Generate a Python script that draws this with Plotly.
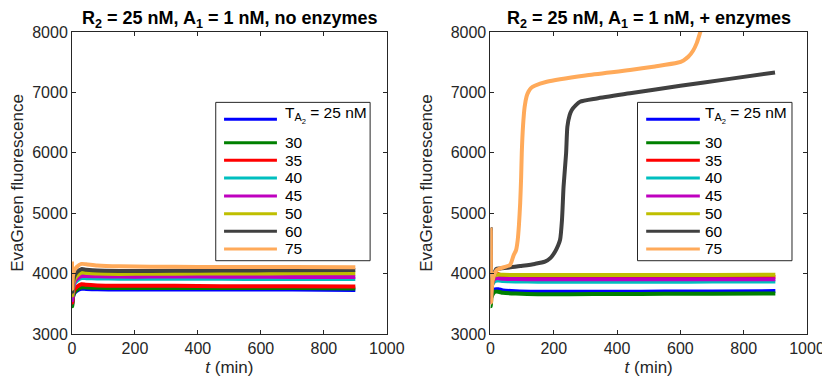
import plotly.graph_objects as go
from plotly.subplots import make_subplots

# series labels and colours (MATLAB-ish)
labels = ["T<sub>A<sub>2</sub></sub> = 25 nM", "30", "35", "40", "45", "50", "60", "75"]
colors = ["#0000ff", "#008000", "#ff0000", "#00bfbf", "#bf00bf", "#bfbf00", "#404040", "#ffaa5a"]

# --- left panel: no enzymes (common time grid)
t_left = [0, 1, 3, 8, 15, 30, 45, 80, 150, 250, 400, 550, 700, 900]
left_blue = [3500, 3500, 3620, 3680, 3715, 3750, 3745, 3740, 3735, 3735, 3735, 3735, 3735, 3730]
left_green = [3460, 3460, 3600, 3690, 3730, 3775, 3770, 3765, 3760, 3760, 3760, 3760, 3760, 3755]
left_red = [3520, 3520, 3660, 3740, 3780, 3825, 3815, 3805, 3800, 3800, 3795, 3790, 3790, 3785]
left_cyan = [3600, 3600, 3750, 3840, 3880, 3925, 3925, 3920, 3915, 3915, 3915, 3912, 3912, 3910]
left_magenta = [3560, 3560, 3760, 3860, 3910, 3960, 3960, 3955, 3950, 3950, 3950, 3948, 3945, 3945]
left_yellow = [3640, 3640, 3810, 3910, 3960, 4015, 4010, 4000, 3995, 3998, 4000, 4002, 4005, 4005]
left_gray = [3700, 3700, 3860, 3960, 4020, 4075, 4065, 4050, 4045, 4045, 4048, 4052, 4056, 4060]
left_orange = [4200, 3750, 3960, 4060, 4110, 4160, 4155, 4135, 4120, 4115, 4110, 4108, 4108, 4105]

# --- right panel: + enzymes
t_right = [0, 1, 3, 8, 15, 25, 40, 80, 150, 250, 400, 550, 700, 900]
right_blue = [3550, 3550, 3650, 3705, 3740, 3740, 3722, 3708, 3700, 3700, 3700, 3702, 3705, 3710]
right_green = [3460, 3460, 3600, 3665, 3700, 3700, 3682, 3670, 3660, 3660, 3662, 3665, 3668, 3670]
right_red = [3560, 3560, 3850, 3950, 4010, 3990, 3965, 3955, 3950, 3946, 3945, 3945, 3945, 3945]
right_cyan = [3600, 3600, 3780, 3840, 3880, 3885, 3876, 3870, 3866, 3865, 3865, 3866, 3868, 3870]
right_magenta = [3530, 3530, 3800, 3880, 3920, 3925, 3915, 3910, 3906, 3905, 3905, 3905, 3906, 3906]
right_yellow = [3600, 3600, 3850, 3930, 3970, 3985, 3980, 3976, 3975, 3975, 3975, 3976, 3978, 3980]

t_gray = [0, 1, 2, 5, 10, 18, 31, 60, 94, 140, 172, 190, 204, 214, 220, 226, 231, 239, 243,
          250, 257, 270, 283, 336, 441, 600, 750, 899]
right_gray = [4760, 4740, 3600, 3800, 3950, 4075, 4085, 4100, 4125, 4160, 4197, 4260, 4363, 4470,
              4560, 4887, 5439, 5990, 6430, 6620, 6709, 6790, 6846, 6900, 6985, 7110, 7220, 7330]

t_orange = [0, 1, 2, 5, 10, 20, 30, 45, 62, 73, 81, 86, 90, 94, 97, 99, 103, 108, 114, 120,
            128, 140, 178, 300, 441, 520, 590, 610, 625, 640, 652, 663, 668]
right_orange = [4760, 4700, 3520, 3800, 3950, 4060, 4085, 4110, 4142, 4300, 4390, 4550, 4800,
                5170, 5600, 6000, 6450, 6760, 6930, 7010, 7070, 7110, 7177, 7280, 7370, 7430,
                7490, 7530, 7590, 7690, 7820, 8000, 8080]

left_series = [left_blue, left_green, left_red, left_cyan, left_magenta, left_yellow, left_gray, left_orange]
right_series = [(t_right, right_blue), (t_right, right_green), (t_right, right_red), (t_right, right_cyan),
                (t_right, right_magenta), (t_right, right_yellow), (t_gray, right_gray), (t_orange, right_orange)]

FONT = "Liberation Sans, Arial, Helvetica, sans-serif"
INK = "#262626"

fig = make_subplots(rows=1, cols=2)

for ys, c in zip(left_series, colors):
    fig.add_trace(go.Scatter(x=t_left, y=ys, mode="lines", line=dict(color=c, width=4, shape="spline", smoothing=0.6),
                             showlegend=False, hoverinfo="skip"), row=1, col=1)
for (ts, ys), c in zip(right_series, colors):
    fig.add_trace(go.Scatter(x=ts, y=ys, mode="lines", line=dict(color=c, width=4, shape="spline", smoothing=0.6),
                             showlegend=False, hoverinfo="skip"), row=1, col=2)

axis_style = dict(
    showline=True, linecolor=INK, linewidth=1, mirror="ticks",
    ticks="inside", ticklen=4, tickcolor=INK, tickwidth=1,
    showgrid=False, zeroline=False, automargin=False,
    tickfont=dict(family=FONT, size=16, color=INK),
)
fig.update_xaxes(range=[0, 1000], dtick=200, **axis_style)
fig.update_yaxes(range=[3000, 8000], dtick=1000, **axis_style)
fig.update_xaxes(title=dict(text="<i>t</i> (min)", font=dict(family=FONT, size=17, color=INK), standoff=8))
fig.update_yaxes(title=dict(text="EvaGreen fluorescence", font=dict(family=FONT, size=17, color=INK), standoff=13))

fig.layout.xaxis.domain = [0, 0.4283]
fig.layout.xaxis2.domain = [0.5693, 1]

titles = ["<b>R<sub>2</sub> = 25 nM, A<sub>1</sub> = 1 nM, no enzymes</b>",
          "<b>R<sub>2</sub> = 25 nM, A<sub>1</sub> = 1 nM, + enzymes</b>"]

# hand-drawn MATLAB-style legend boxes
legend_boxes = [
    dict(x0=0.4566, x1=0.947, lx0=0.483, lx1=0.651, tx=0.6696),
    dict(x0=0.4646, x1=0.9526, lx0=0.492, lx1=0.6615, tx=0.671),
]
box_y0, box_y1 = 0.2427, 0.767
entry_y = [0.7109, 0.6334, 0.5752, 0.5166, 0.457, 0.3983, 0.34, 0.2815]

for i, (title, lb) in enumerate(zip(titles, legend_boxes)):
    xr = "x domain" if i == 0 else "x2 domain"
    yr = "y domain" if i == 0 else "y2 domain"
    fig.add_annotation(text=title, xref=xr, yref=yr, x=0.5, y=1, yanchor="bottom",
                       yshift=-1, showarrow=False, font=dict(family=FONT, size=18, color="black"))
    fig.add_shape(type="rect", xref=xr, yref=yr, x0=lb["x0"], x1=lb["x1"], y0=box_y0, y1=box_y1,
                  line=dict(color=INK, width=1), fillcolor="white", layer="above")
    for lab, c, yy in zip(labels, colors, entry_y):
        fig.add_shape(type="line", xref=xr, yref=yr, x0=lb["lx0"], x1=lb["lx1"], y0=yy, y1=yy,
                      line=dict(color=c, width=3), layer="above")
        fig.add_annotation(text=lab, xref=xr, yref=yr, x=lb["tx"], y=yy, xanchor="left",
                           yanchor="middle", showarrow=False,
                           yshift=4 if lab.startswith("T") else 0,
                           font=dict(family=FONT, size=15.5, color="black"))

# the page body adds an 8px offset on every side, so the figure is shrunk and margins shifted
fig.update_layout(
    width=822, height=369,
    margin=dict(l=64, r=23, t=24, b=43),
    paper_bgcolor="white", plot_bgcolor="white",
    font=dict(family=FONT, color=INK),
)

fig.write_html("out.html")
